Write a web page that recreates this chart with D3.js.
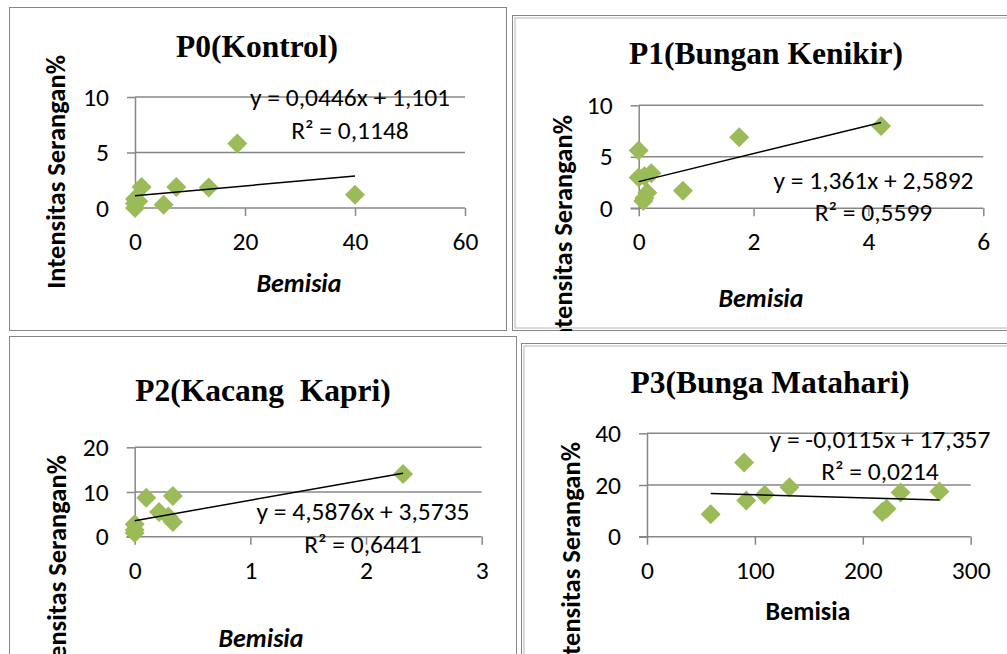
<!DOCTYPE html>
<html>
<head>
<meta charset="utf-8">
<script src="https://cdn.jsdelivr.net/npm/d3@7"></script>
<style>
  body { margin: 0; background: #fff; }
  svg { display: block; }
  .title { font-family: 'Liberation Serif', 'Times New Roman', serif; font-weight: bold; font-size: 31.5px; }
  .tick text, .eq { font-family: Carlito, Calibri, Lato, sans-serif; font-size: 25.5px; fill: #000; }
  .ylab { font-family: Carlito, Calibri, Lato, sans-serif; font-weight: bold; font-size: 26.5px; }
  .xlab { font-family: Carlito, Calibri, Lato, sans-serif; font-weight: bold; font-size: 26px; }
</style>
</head>
<body>
<svg id="chart" width="1007" height="654"></svg>
<script>
// values
const titles = ["P0(Kontrol)", "P1(Bungan Kenikir)", "P2(Kacang  Kapri)", "P3(Bunga Matahari)"];

const p0Bemisia  = [0, 0, 0, 0.6, 1.2, 5.2, 7.5, 13.4, 18.6, 40];
const p0Serangan = [0, 0.4, 0.8, 0.6, 1.9, 0.3, 1.9, 1.85, 5.8, 1.2];
const p1Bemisia  = [0, 0, 0.1, 0.22, 0.15, 0.1, 0.08, 0.77, 1.75, 4.22];
const p1Serangan = [5.6, 3.0, 3.1, 3.4, 1.5, 1.0, 0.7, 1.7, 6.9, 8.0];
const p2Bemisia  = [0, 0, 0, 0.1, 0.21, 0.29, 0.33, 0.33, 2.32];
const p2Serangan = [0.8, 1.5, 2.8, 8.7, 5.5, 4.5, 3.3, 9.1, 14.0];
const p3Bemisia  = [59, 90, 92, 109, 132, 218, 222, 235, 271];
const p3Serangan = [8.7, 28.7, 14, 16.2, 19.1, 9.6, 10.8, 17.1, 17.5];

// trendline [slope, intercept]
const p0Trend = [0.0446, 1.101];
const p1Trend = [1.361, 2.5892];
const p2Trend = [4.5876, 3.5735];
const p3Trend = [-0.0115, 17.357];

const p0Eq = ["y = 0,0446x + 1,101", "R² = 0,1148"];
const p1Eq = ["y = 1,361x + 2,5892", "R² = 0,5599"];
const p2Eq = ["y = 4,5876x + 3,5735", "R² = 0,6441"];
const p3Eq = ["y = -0,0115x + 17,357", "R² = 0,0214"];

const p0XTicks = [0, 20, 40, 60],   p0YTicks = [0, 5, 10];
const p1XTicks = [0, 2, 4, 6],      p1YTicks = [0, 5, 10];
const p2XTicks = [0, 1, 2, 3],      p2YTicks = [0, 10, 20];
const p3XTicks = [0, 100, 200, 300], p3YTicks = [0, 20, 40];

const yLabel = "Intensitas Serangan%";
const xLabel = "Bemisia";

const panels = [
  { xs: p0Bemisia, ys: p0Serangan, trend: p0Trend, eq: p0Eq, xt: p0XTicks, yt: p0YTicks,
    frame: [9, 7, 507, 331], double: false, plot: [135, 97, 465, 208],
    title: [257, 57], eqPos: [350, 106], ylab: [65, 55], xlab: [299, 292], italic: true },
  { xs: p1Bemisia, ys: p1Serangan, trend: p1Trend, eq: p1Eq, xt: p1XTicks, yt: p1YTicks,
    frame: [512, 15, 1012, 331], double: true, plot: [638.7, 105.3, 983.3, 208.3],
    title: [766, 64], eqPos: [873.5, 188.5], ylab: [572, 115], xlab: [761, 307], italic: true },
  { xs: p2Bemisia, ys: p2Serangan, trend: p2Trend, eq: p2Eq, xt: p2XTicks, yt: p2YTicks,
    frame: [9, 336, 517, 660], double: false, plot: [134.7, 447.3, 481.7, 536.7],
    title: [263, 401], eqPos: [363, 520], ylab: [66, 455], xlab: [261, 647], italic: true },
  { xs: p3Bemisia, ys: p3Serangan, trend: p3Trend, eq: p3Eq, xt: p3XTicks, yt: p3YTicks,
    frame: [521, 343, 1012, 660], double: true, plot: [647, 433.3, 970.7, 536.7],
    title: [770, 393], eqPos: [880, 447.5], ylab: [580, 442], xlab: [808, 620], italic: false }
];

const svg = d3.select("#chart");
svg.append("rect").attr("width", 1007).attr("height", 654).attr("fill", "#fff");

const gray = "#878787";
const green = "#9bbb59";
const diamond = d3.symbol().type(d3.symbolSquare).size(200);

panels.forEach((p, i) => {
  const [fx0, fy0, fx1, fy1] = p.frame;
  const [px0, py0, px1, py1] = p.plot;

  svg.append("clipPath").attr("id", "clip" + i)
    .append("rect").attr("x", fx0).attr("y", fy0).attr("width", fx1 - fx0).attr("height", fy1 - fy0);

  const g = svg.append("g").attr("clip-path", `url(#clip${i})`);

  g.append("rect")
    .attr("x", fx0).attr("y", fy0).attr("width", fx1 - fx0).attr("height", fy1 - fy0)
    .attr("fill", "#fff").attr("stroke", gray).attr("stroke-width", 2);
  if (p.double) {
    g.append("rect")
      .attr("x", fx0 + 3).attr("y", fy0 + 3).attr("width", fx1 - fx0 - 6).attr("height", fy1 - fy0 - 6)
      .attr("fill", "none").attr("stroke", "#b5b5b5").attr("stroke-width", 1);
  }

  const x = d3.scaleLinear().domain(d3.extent(p.xt)).range([px0, px1]);
  const y = d3.scaleLinear().domain(d3.extent(p.yt)).range([py1, py0]);

  // gridlines
  g.append("g").selectAll("line")
    .data(p.yt.filter(v => v !== 0))
    .join("line")
      .attr("x1", px0).attr("x2", px1)
      .attr("y1", d => y(d)).attr("y2", d => y(d))
      .attr("stroke", gray).attr("stroke-width", 1.5);

  const yAxis = g.append("g")
    .attr("transform", `translate(${px0},0)`)
    .call(d3.axisLeft(y).tickValues(p.yt).tickFormat(d => d)
      .tickSize(8).tickSizeOuter(0).tickPadding(18));

  const xAxis = g.append("g")
    .attr("transform", `translate(0,${py1})`)
    .call(d3.axisBottom(x).tickValues(p.xt).tickFormat(d => d)
      .tickSize(8).tickSizeOuter(0).tickPadding(16));

  [yAxis, xAxis].forEach(a => {
    a.selectAll("path, line").attr("stroke", gray).attr("stroke-width", 1.5);
    a.selectAll("text").attr("font-size", null).attr("font-family", null);
  });
  // x axis line reaches left to y tick stubs
  xAxis.select(".domain").attr("d", `M${px0 - 8},0H${px1}`);

  // points
  g.append("g").selectAll("path")
    .data(p.xs.map((v, k) => [v, p.ys[k]]))
    .join("path")
      .attr("d", diamond)
      .attr("transform", d => `translate(${x(d[0])},${y(d[1])}) rotate(45)`)
      .attr("fill", green);

  // trendline over the data range
  const [xa, xb] = d3.extent(p.xs);
  const line = d3.line().x(d => x(d)).y(d => y(p.trend[0] * d + p.trend[1]));
  g.append("path")
    .attr("d", line([xa, xb]))
    .attr("stroke", "#000").attr("stroke-width", 1.5).attr("fill", "none");

  // equation + R²
  g.append("g").selectAll("text")
    .data(p.eq)
    .join("text")
      .attr("class", "eq")
      .attr("x", p.eqPos[0])
      .attr("y", (d, k) => p.eqPos[1] + k * 32.5)
      .attr("text-anchor", "middle")
      .text(d => d);

  g.append("text").attr("class", "title")
    .attr("x", p.title[0]).attr("y", p.title[1])
    .attr("text-anchor", "middle")
    .style("white-space", "pre")
    .text(titles[i]);

  g.append("text").attr("class", "ylab")
    .attr("transform", `translate(${p.ylab[0]},${p.ylab[1]}) rotate(-90)`)
    .attr("text-anchor", "end")
    .text(yLabel);

  g.append("text").attr("class", "xlab")
    .attr("x", p.xlab[0]).attr("y", p.xlab[1])
    .attr("text-anchor", "middle")
    .style("font-style", p.italic ? "italic" : "normal")
    .text(xLabel);
});
</script>
</body>
</html>
